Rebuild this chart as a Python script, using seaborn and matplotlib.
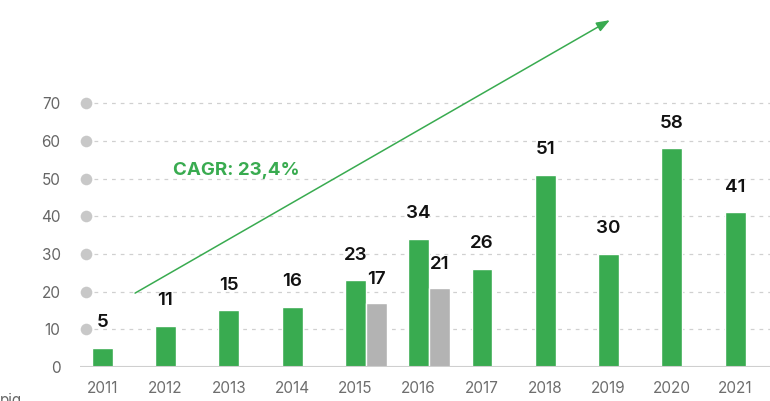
import numpy as np
import pandas as pd
import matplotlib
matplotlib.use("Agg")
import matplotlib.pyplot as plt
import matplotlib.transforms as mtransforms
import seaborn as sns

# data
years = ["2011", "2012", "2013", "2014", "2015", "2016", "2017", "2018", "2019", "2020", "2021"]
green_vals = [5, 11, 15, 16, 23, 34, 26, 51, 30, 58, 41]
gray_years = ["2015", "2016"]
gray_vals = [17, 21]
yticks = [0, 10, 20, 30, 40, 50, 60, 70]
cagr_label = "CAGR: 23,4%"

GREEN = "#39ab50"
GRAY = "#b3b3b3"

sns.set_style("white")
plt.rcParams["font.family"] = ["Inter", "DejaVu Sans"]

fig = plt.figure(figsize=(7.7, 4.01), dpi=100)
ax = fig.add_axes([80 / 770, 34 / 401, 690 / 770, 357 / 401])

df = pd.DataFrame({"year": years, "value": green_vals})
sns.barplot(data=df, x="year", y="value", color=GREEN, width=0.33,
            saturation=1, ax=ax, order=years)

# second series sits right next to the green bar
gidx = np.array([years.index(y) for y in gray_years])
ax.bar(gidx + 0.33, gray_vals, width=0.33, color=GRAY, zorder=3)

# value labels
for i, v in enumerate(green_vals):
    ax.annotate(str(v), (i, v), xytext=(0, 12), textcoords="offset points",
                ha="center", va="bottom", fontsize=13.5, fontweight="semibold", color="#111111")
for i, v in zip(gidx, gray_vals):
    ax.annotate(str(v), (i + 0.33, v), xytext=(0, 11), textcoords="offset points",
                ha="center", va="bottom", fontsize=13.5, fontweight="semibold", color="#111111")

ax.set_xlim(-0.35, 10.55)
ax.set_ylim(0, 94.7)
ax.set_yticks(yticks)
ax.set_xlabel("")
ax.set_ylabel("")
for s in ax.spines.values():
    s.set_visible(False)

# dashed grid + dots
ax.hlines(yticks[1:], -0.13, 10.55, colors="#d0d0d0", linestyles=(0, (3, 4)), linewidth=0.9, zorder=0)
ax.axhline(0, color="#cfcfcf", linewidth=1.5, zorder=4)
trans = mtransforms.blended_transform_factory(ax.transAxes, ax.transData)
ax.scatter([0.0087] * (len(yticks) - 1), yticks[1:], s=70, color="#c8c8c8",
           transform=trans, clip_on=False, zorder=5, linewidths=0)

ax.tick_params(axis="y", length=0, pad=14, labelsize=11, labelcolor="#666666")
ax.tick_params(axis="x", length=0, pad=10, labelsize=11, labelcolor="#6e6e6e")

# trend arrow
ax.annotate("", xy=(8.02, 92.0), xytext=(0.52, 19.6),
            arrowprops=dict(arrowstyle="-|>,head_length=0.8,head_width=0.3",
                            color=GREEN, lw=1.1, shrinkA=0, shrinkB=0),
            annotation_clip=False)
ax.text(1.12, 52.2, cagr_label, color=GREEN, fontsize=13.5, fontweight="bold",
        ha="left", va="center")

# source note, cut by the bottom edge as in the original
fig.text(0.0, 8 / 401, "pig", color="#666666", fontsize=11, ha="left", va="top")

fig.savefig("out.png", dpi=100)
